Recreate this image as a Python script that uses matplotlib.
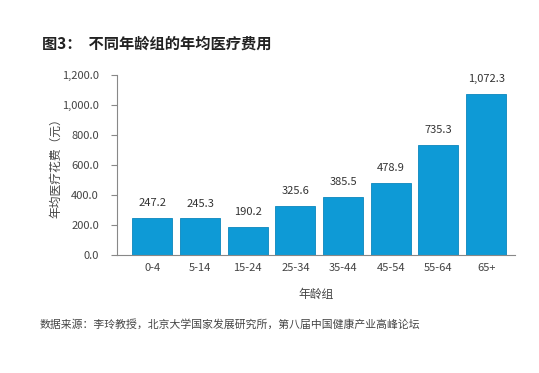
import matplotlib
matplotlib.use('Agg')
import matplotlib.pyplot as plt

plt.rcParams['font.family'] = ['Noto Sans CJK SC', 'DejaVu Sans']

age_groups = ['0-4', '5-14', '15-24', '25-34', '35-44', '45-54', '55-64', '65+']
costs = [247.2, 245.3, 190.2, 325.6, 385.5, 478.9, 735.3, 1072.3]
y_ticks = [0, 200, 400, 600, 800, 1000, 1200]

fig = plt.figure(figsize=(5.39, 3.73), dpi=100)
ax = fig.add_axes([0.217, 0.316, 0.738, 0.483])

x = range(len(age_groups))
ax.bar(x, costs, width=0.84, color='#0e9ad6', edgecolor='#0a86bd', linewidth=0.6)
for i, v in zip(x, costs):
    ax.text(i, v + 65, '{:,.1f}'.format(v), ha='center', va='bottom', fontsize=8, color='#333333')

ax.set_xlim(-0.744, 7.6)
ax.set_ylim(0, 1200)
ax.set_yticks(y_ticks)
ax.set_yticklabels(['{:,.1f}'.format(t) for t in y_ticks], fontsize=8, color='#444444')
ax.set_xticks(list(x))
ax.set_xticklabels(age_groups, fontsize=8, color='#444444')
ax.tick_params(axis='x', length=0, pad=6)
ax.tick_params(axis='y', length=4, color='#888888', direction='out', pad=9)
for s in ['top', 'right']:
    ax.spines[s].set_visible(False)
ax.spines['left'].set_color('#888888')
ax.spines['bottom'].set_color('#888888')
ax.set_ylabel('年均医疗花费（元）', fontsize=8.5, color='#444444', labelpad=0)
ax.set_xlabel('年龄组', fontsize=8.5, color='#444444', labelpad=10)

fig.text(0.078, 0.882, '图3：  不同年龄组的年均医疗费用', fontsize=11, fontweight='bold', color='#222222', va='center')
fig.text(0.074, 0.131, '数据来源：李玲教授，北京大学国家发展研究所，第八届中国健康产业高峰论坛', fontsize=7.8, color='#444444', va='center')

fig.savefig('out.png', dpi=100)
